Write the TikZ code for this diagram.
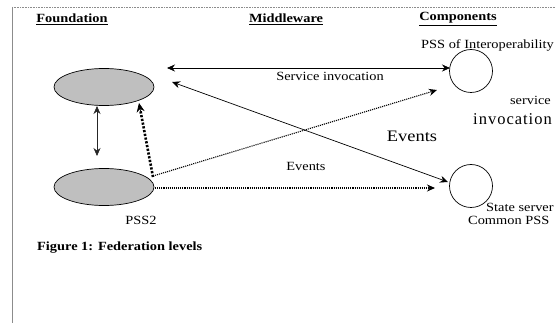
\documentclass[tikz,border=0pt]{standalone}
\usepackage{fontspec}
\setmainfont{Liberation Serif}
\newfontfamily\widefont[FakeStretch=1.15]{Liberation Serif}
\usetikzlibrary{arrows.meta,calc,shapes.geometric}
\begin{document}
\begin{tikzpicture}[x=1pt,y=-1pt,
  hdr/.style={font=\widefont\fontsize{12.5}{15}\selectfont\bfseries, inner sep=0pt},
  lbl/.style={font=\widefont\fontsize{12.5}{14}\selectfont, inner sep=0pt},
  biglbl/.style={font=\widefont\fontsize{16}{18}\selectfont, inner sep=0pt},
  oval/.style={draw=black, line width=0.7pt, fill=black!25, ellipse, minimum width=100pt, minimum height=37pt, inner sep=0pt},
  comp/.style={draw=black, line width=0.7pt, circle, minimum size=43pt, inner sep=0pt},
  tip/.style={-{Stealth[length=8pt,width=7pt]}},
  tips/.style={{Stealth[length=8pt,width=7pt]}-{Stealth[length=8pt,width=7pt]}},
  evline/.style={densely dotted, line width=1.1pt},
  thickdot/.style={dash pattern=on 2.2pt off 1.6pt, line width=2.6pt},
  frame/.style={draw=black!45, line width=0.6pt}
]
\useasboundingbox (0,0) rectangle (555,323);
% frame
\coordinate (ftl) at (12,7);
\coordinate (ftr) at (555,7);
\coordinate (fbl) at (12,323);
\draw[frame, densely dotted] (ftl) -- (ftr);
\draw[frame] (ftl) -- (fbl);

% headers
\node[hdr] (hf) at (72,19) {\underline{Foundation}};
\node[hdr] (hm) at (286,19) {\underline{Middleware}};
\node[hdr] (hc) at (458,19) {\underline{Components}};

% shapes
\node[oval] (e1) at (104,87) {};
\node[oval] (e2) at (104,187) {};
\node[comp] (c1) at (471,71) {};
\node[comp] (c2) at (471,186) {};

% labels
\node[lbl, anchor=west] (lc1) at (421,45) {PSS of Interoperability};
\node[lbl] (lsi) at (330,76) {Service invocation};
\node[lbl, anchor=east] (lsv) at (551,100) {service};
\node[biglbl, anchor=east, font=\fontsize{16.5}{18}\selectfont\addfontfeatures{LetterSpace=6}] (linv) at (552,119) {invocation};
\node[biglbl] (lev1) at (412,136) {Events};
\node[lbl] (lev2) at (306,166) {Events};
\node[lbl, anchor=west] (lss) at (486,207) {State server};
\node[lbl, anchor=west] (lcp) at (468,220) {Common PSS};
\node[lbl] (lp2) at (141,220) {PSS2};
\node[hdr, anchor=west] (fig) at (37,248) {Figure 1: Federation levels};

% connector end points
\coordinate (si1) at (167,68);
\coordinate (si2) at (450,68);
\coordinate (x1) at (172,82);
\coordinate (x2) at (448,182);
\coordinate (d1a) at (153,176);
\coordinate (d1b) at (437,90);
\coordinate (d2a) at (155,188);
\coordinate (d2b) at (435,188);
\coordinate (t1) at (153,177);
\coordinate (t2) at (139,103);
\coordinate (v1) at (97,106);
\coordinate (v2) at (97,156);

% connectors
\draw[tips, line width=0.7pt] (si1) -- (si2);
\draw[tips, line width=0.7pt] (x1) -- (x2);
\draw[evline, tip] (d1a) -- (d1b);
\draw[evline, tip] (d2a) -- (d2b);
\draw[tips, line width=0.7pt, black!85] (v1) -- (v2);
\draw[thickdot] (t1) -- ($(t1)!0.9!(t2)$);
\draw[-{Stealth[length=9pt,width=8pt]}, line width=0.7pt] ($(t2)!0.13!(t1)$) -- (t2);
\end{tikzpicture}
\end{document}
